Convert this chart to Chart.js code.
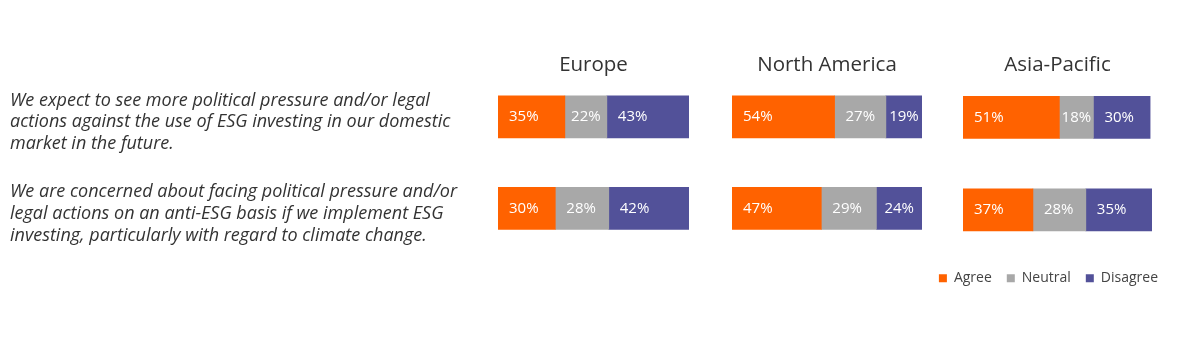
<!DOCTYPE html>
<html>
<head>
<meta charset="utf-8">
<script src="https://cdn.jsdelivr.net/npm/chart.js@4.4.1/dist/chart.umd.min.js"></script>
<style>
  body { margin: 0; background: #fff; }
  #wrap { position: relative; width: 1182px; height: 340px; overflow: hidden; }
  .panel { position: absolute; top: 0; height: 340px; }
</style>
</head>
<body>
<div id="wrap">
  <div class="panel" style="left:0;width:689px"><canvas id="europe"></canvas></div>
  <div class="panel" style="left:732px;width:190px"><canvas id="namerica"></canvas></div>
  <div class="panel" style="left:910px;width:263px"><canvas id="apac"></canvas></div>
</div>
<script>
var questions = [
  ['We expect to see more political pressure and/or legal',
   'actions against the use of ESG investing in our domestic',
   'market in the future.'],
  ['We are concerned about facing political pressure and/or',
   'legal actions on an anti-ESG basis if we implement ESG',
   'investing, particularly with regard to climate change.']
];
var answers = ['Agree', 'Neutral', 'Disagree'];

var europeAgree = [35, 30];
var europeNeutral = [22, 28];
var europeDisagree = [43, 42];

var naAgree = [54, 47];
var naNeutral = [27, 29];
var naDisagree = [19, 24];

var apacAgree = [51, 37];
var apacNeutral = [18, 28];
var apacDisagree = [30, 35];

var colors = ['#FF6200', '#A8A8A8', '#525199'];

Chart.defaults.font.family = "'Open Sans', sans-serif";
Chart.defaults.animation = false;

// white % labels inside the bar segments
var segmentLabels = {
  id: 'segmentLabels',
  afterDatasetsDraw: function(chart) {
    var ctx = chart.ctx;
    ctx.save();
    ctx.font = "15px 'Open Sans', sans-serif";
    ctx.fillStyle = '#ffffff';
    ctx.textBaseline = 'middle';
    ctx.textAlign = 'left';
    chart.data.datasets.forEach(function(ds, i) {
      chart.getDatasetMeta(i).data.forEach(function(bar, j) {
        var txt = ds.data[j] + '%';
        var left = Math.min(bar.x, bar.base);
        var w = Math.abs(bar.x - bar.base);
        var tw = ctx.measureText(txt).width;
        ctx.fillText(txt, left + Math.min(11, (w - tw) / 2), bar.y);
      });
    });
    ctx.restore();
  }
};

// empty axis box, only used to hold space
function spacer(pos, width) {
  return {
    position: pos,
    grid: { display: false },
    border: { display: false },
    ticks: { display: false },
    afterFit: function(scale) { scale.width = width; }
  };
}

function makeChart(id, region, agree, neutral, disagree, scales, padding, legend) {
  scales.x = { stacked: true, min: 0, max: 100, display: false };
  return new Chart(document.getElementById(id), {
    type: 'bar',
    data: {
      labels: questions,
      datasets: [
        { label: answers[0], data: agree, backgroundColor: colors[0] },
        { label: answers[1], data: neutral, backgroundColor: colors[1] },
        { label: answers[2], data: disagree, backgroundColor: colors[2] }
      ]
    },
    options: {
      indexAxis: 'y',
      responsive: true,
      maintainAspectRatio: false,
      layout: { padding: padding },
      datasets: { bar: { barThickness: 42, borderWidth: 0 } },
      scales: scales,
      plugins: {
        tooltip: { enabled: false },
        title: {
          display: true,
          text: region,
          fullSize: false,
          color: '#333333',
          font: { size: 20.5, weight: 'normal', lineHeight: 0.5 },
          padding: { top: 60.5, bottom: 0.25 }
        },
        legend: legend
      }
    },
    plugins: [segmentLabels]
  });
}

makeChart('europe', 'Europe', europeAgree, europeNeutral, europeDisagree, {
  y: {
    stacked: true,
    offset: true,
    grid: { display: false },
    border: { display: false },
    ticks: {
      crossAlign: 'far',
      padding: 0,
      labelOffset: 5.5,
      color: '#333333',
      font: { size: 18, style: 'italic', lineHeight: 1.2 }
    },
    afterFit: function(scale) { scale.width = 488; }
  }
}, { left: 10, bottom: 85.75 }, { display: false });

makeChart('namerica', 'North America', naAgree, naNeutral, naDisagree, {
  y: { stacked: true, offset: true, display: false }
}, { bottom: 85.75 }, { display: false });

var apacY = spacer('left', 53);
apacY.stacked = true;
apacY.offset = true;
makeChart('apac', 'Asia-Pacific', apacAgree, apacNeutral, apacDisagree, {
  y: apacY,
  yPad: spacer('right', 21)
}, { bottom: 44.75 }, {
  display: true,
  position: 'bottom',
  align: 'end',
  labels: {
    boxWidth: 8,
    boxHeight: 8,
    padding: 15,
    color: '#444444',
    font: { size: 14 }
  }
});
</script>
</body>
</html>
